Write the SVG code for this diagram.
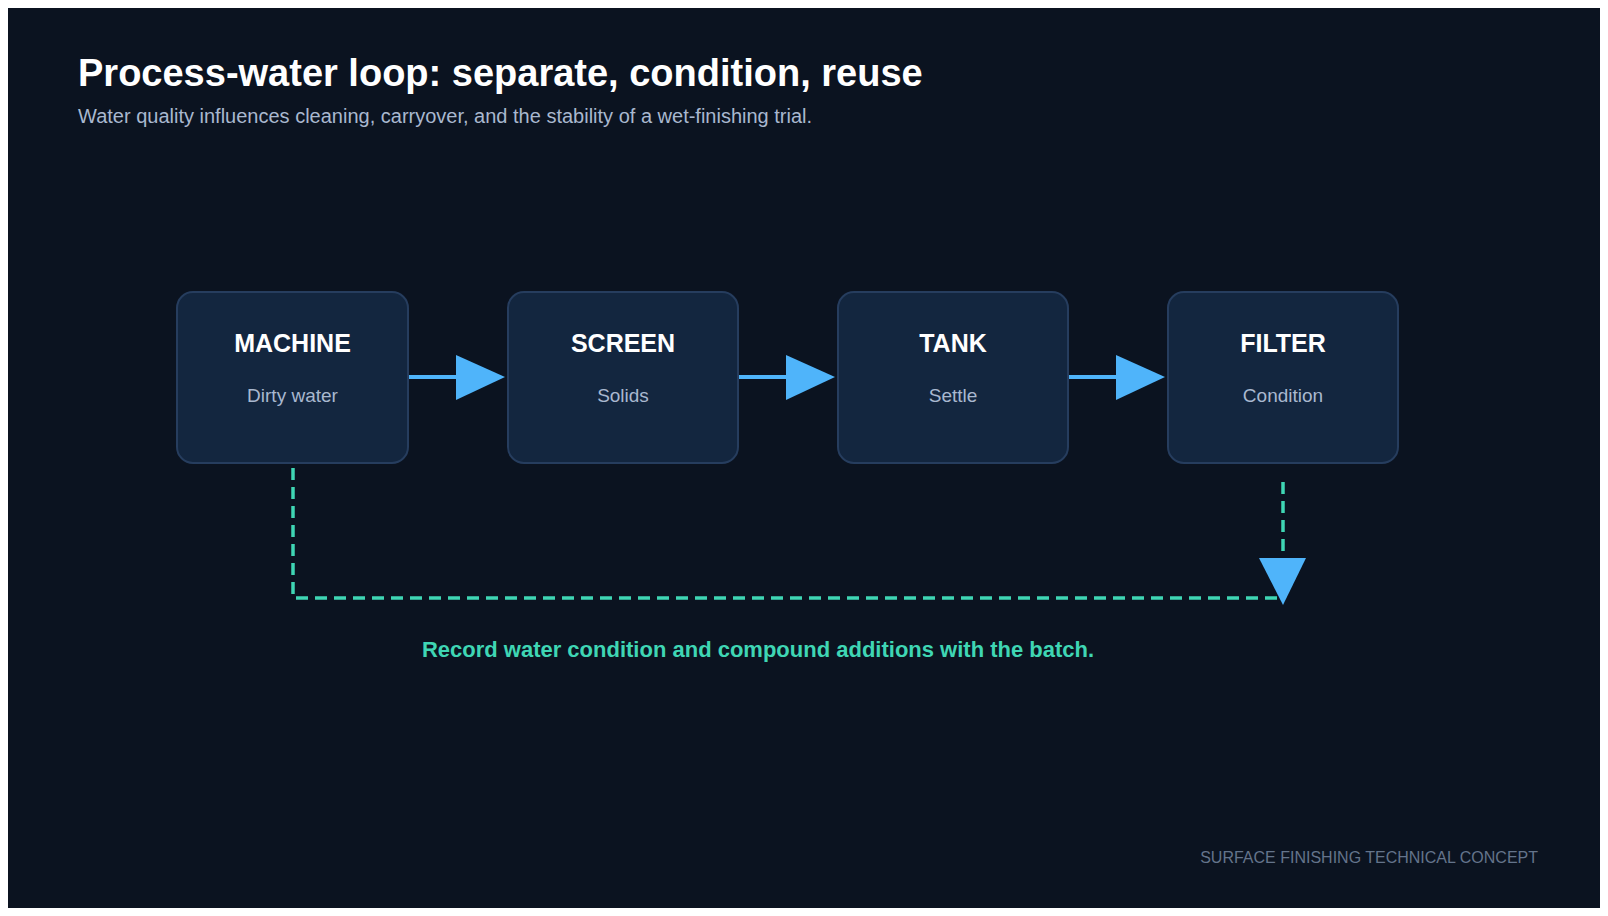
<svg xmlns="http://www.w3.org/2000/svg" width="1608" height="916" viewBox="0 0 1608 916">
<style>
.t{font-family:"Liberation Sans",Arial,sans-serif}
.box{fill:#13263f;stroke:#263d5e;stroke-width:2}
.nt{font-size:25px;font-weight:bold;fill:#ffffff;text-anchor:middle}
.ns{font-size:19px;fill:#a9b8cf;text-anchor:middle}
.fl{stroke:#4fb4fa;stroke-width:4;fill:none}
.ah{fill:#4fb4fa}
.dl{stroke:#3fd6b4;stroke-width:3.5;fill:none;stroke-dasharray:12 7}
</style>
<rect width="1608" height="916" fill="#ffffff"/>
<rect x="8" y="8" width="1592" height="900" fill="#0b1320"/>
<text class="t" x="78" y="86" font-size="38" font-weight="bold" fill="#ffffff">Process-water loop: separate, condition, reuse</text>
<text class="t" x="78" y="123" font-size="20" fill="#a9b8cf">Water quality influences cleaning, carryover, and the stability of a wet-finishing trial.</text>
<g id="connectors">
<line class="fl" x1="408" y1="377" x2="460" y2="377"/><polygon class="ah" points="456,355 505,377 456,400"/>
<line class="fl" x1="738" y1="377" x2="790" y2="377"/><polygon class="ah" points="786,355 835,377 786,400"/>
<line class="fl" x1="1068" y1="377" x2="1120" y2="377"/><polygon class="ah" points="1116,355 1165,377 1116,400"/>
<path class="dl" d="M293 468 V598 H1283"/>
<path class="dl" d="M1283 482 V560"/>
<polygon class="ah" points="1259,558 1306,558 1283,605"/>
</g>
<g id="machine"><rect class="box" x="177" y="292" width="231" height="171" rx="16"/><text class="t nt" x="292.5" y="352">MACHINE</text><text class="t ns" x="292.5" y="402">Dirty water</text></g>
<g id="screen"><rect class="box" x="508" y="292" width="230" height="171" rx="16"/><text class="t nt" x="623" y="352">SCREEN</text><text class="t ns" x="623" y="402">Solids</text></g>
<g id="tank"><rect class="box" x="838" y="292" width="230" height="171" rx="16"/><text class="t nt" x="953" y="352">TANK</text><text class="t ns" x="953" y="402">Settle</text></g>
<g id="filter"><rect class="box" x="1168" y="292" width="230" height="171" rx="16"/><text class="t nt" x="1283" y="352">FILTER</text><text class="t ns" x="1283" y="402">Condition</text></g>
<text class="t" x="758" y="657" font-size="22" font-weight="bold" fill="#3fd6b4" text-anchor="middle">Record water condition and compound additions with the batch.</text>
<text class="t" x="1538" y="863" font-size="16" fill="#64748b" text-anchor="end">SURFACE FINISHING TECHNICAL CONCEPT</text>
</svg>
